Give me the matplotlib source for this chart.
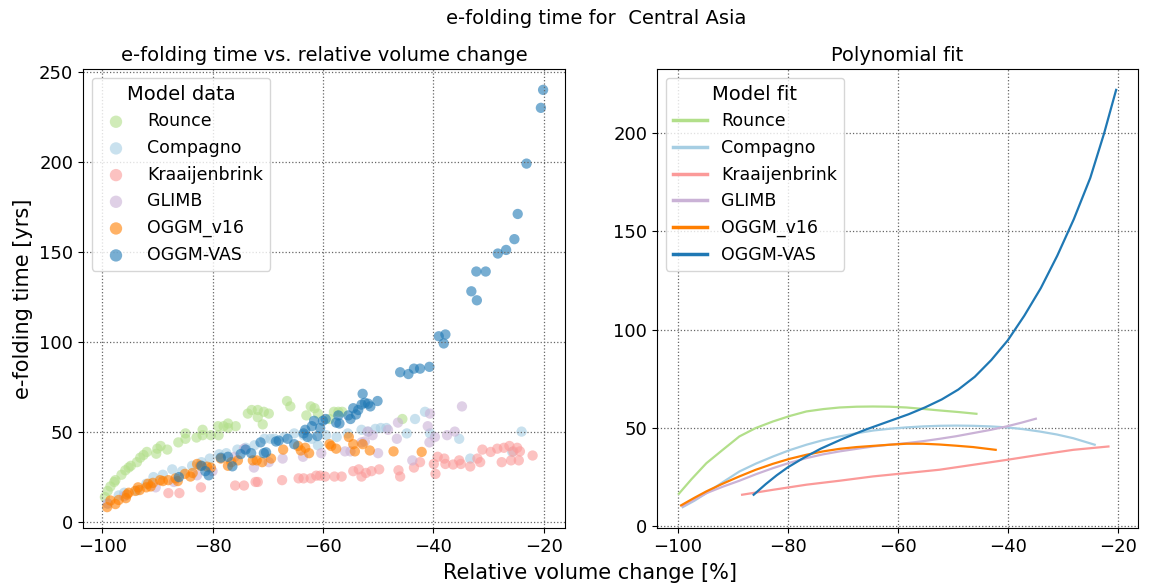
import numpy as np
import matplotlib
matplotlib.use('agg')
import matplotlib.pyplot as plt

models = ['Rounce', 'Compagno', 'Kraaijenbrink', 'GLIMB', 'OGGM_v16', 'OGGM-VAS']
colors = ['#b2df8a', '#a6cee3', '#fb9a99', '#cab2d6', '#ff7f00', '#1f78b4']

# scatter data: (relative volume change [%], e-folding time [yrs])
rounce_pts = [(-99.5, 13.6), (-99.0, 17), (-98.5, 19.5), (-97.8, 22), (-97.6, 23), (-96.5, 26),
              (-95.8, 28.5), (-95.2, 30), (-94.8, 31), (-93.7, 33), (-93.1, 35.5), (-92.5, 37),
              (-91.9, 38.7), (-90.2, 37.7), (-90.0, 40.5), (-89.4, 42), (-88.2, 40), (-86.2, 44),
              (-84.9, 46), (-84.9, 49), (-82.9, 46.7), (-81.8, 51), (-81.8, 48), (-80.3, 48),
              (-78.9, 48), (-79.0, 53), (-78.0, 53), (-77.2, 54.5), (-77.2, 52), (-75.8, 53),
              (-73.6, 60), (-72.9, 62), (-71.8, 62), (-70.7, 61), (-71.8, 58), (-70.9, 54),
              (-69.8, 60), (-66.5, 67), (-65.9, 64), (-63.0, 59), (-62.2, 64), (-61.5, 63),
              (-60.9, 60), (-58.8, 57), (-58.0, 61), (-57.2, 61), (-56.5, 61), (-45.6, 57)]
compagno_pts = [(-99.0, 10), (-97.0, 14.5), (-96.0, 16), (-93.7, 17.3), (-92.0, 21), (-90.7, 24.7),
                (-89.0, 26), (-87.3, 29), (-85.5, 28), (-83.7, 31), (-82.0, 33), (-80.5, 35),
                (-78.8, 37.4), (-77.5, 38), (-75.5, 40), (-74.0, 41), (-72.4, 42.4), (-70.6, 46),
                (-69.5, 46), (-68.8, 46), (-67.0, 47), (-65.2, 49), (-63.5, 48), (-62.0, 46),
                (-60.9, 42.4), (-59.4, 48), (-57.5, 47), (-55.5, 49), (-53.0, 51), (-51.8, 50),
                (-50.5, 51.5), (-49.5, 52), (-48.5, 52), (-44.8, 49), (-43.3, 57), (-41.5, 61),
                (-40.6, 49), (-35.3, 46), (-33.3, 35), (-25.7, 38.7), (-24.0, 50)]
kraai_pts = [(-88.0, 15.8), (-86.0, 15.8), (-82.1, 19), (-75.9, 20), (-74.3, 20), (-72.2, 22),
             (-71.8, 22), (-67.4, 23), (-64.4, 24), (-63.5, 24), (-62.2, 24), (-61.2, 25.5),
             (-60.5, 25.5), (-59.6, 25), (-57.9, 25), (-56.6, 25), (-54.5, 28), (-53.5, 29),
             (-53.0, 25), (-52.2, 27), (-51.2, 28), (-49.8, 29), (-46.3, 28.5), (-46.0, 25),
             (-43.5, 30), (-42.4, 33), (-39.9, 32), (-39.6, 26.5), (-39.2, 36), (-38.0, 35),
             (-37.8, 32), (-36.4, 31.7), (-35.3, 34), (-35.0, 32), (-33.3, 30.6), (-32.0, 35),
             (-31.5, 33), (-31.1, 40), (-29.6, 38.7), (-28.4, 40.5), (-27.6, 33), (-27.2, 41),
             (-26.2, 42), (-25.5, 39), (-25.9, 34), (-24.8, 41), (-24.5, 34), (-24.3, 39),
             (-22.0, 36.7)]
glimb_pts = [(-99.0, 10), (-96.0, 14), (-90.3, 19), (-87.0, 22), (-82.8, 25.7), (-80.0, 28),
             (-76.0, 36), (-74.3, 40.5), (-72.5, 30), (-69.8, 33), (-67.3, 35), (-63.6, 36),
             (-60.3, 38), (-56.0, 39), (-55.0, 39), (-53.0, 44), (-52.4, 44.5), (-51.9, 50),
             (-51.0, 48), (-50.0, 38), (-48.2, 51), (-46.6, 46), (-46.4, 55), (-43.8, 34),
             (-41.0, 53), (-40.6, 60), (-40.7, 44), (-39.7, 47), (-37.5, 48), (-36.1, 50),
             (-34.8, 64)]
oggm16_pts = [(-99.1, 8), (-98.5, 11.7), (-97.6, 9.7), (-97.0, 12), (-95.7, 13), (-95.5, 15),
              (-95.2, 16), (-94.0, 17), (-93.5, 19), (-93.2, 17.5), (-92.0, 19), (-91.7, 21),
              (-91.2, 19.5), (-90.8, 21.5), (-89.5, 23), (-89.0, 22.5), (-88.0, 23), (-86.7, 24),
              (-86.3, 22.5), (-85.0, 26.5), (-84.0, 25), (-83.6, 27), (-82.8, 32), (-82.2, 31),
              (-81.0, 30.5), (-80.3, 30), (-78.5, 35), (-77.2, 31), (-76.6, 33), (-75.4, 34),
              (-72.7, 34), (-72.0, 34), (-71.0, 33), (-69.4, 35), (-67.2, 40), (-64.5, 42),
              (-64.0, 39.5), (-63.2, 41), (-62.5, 38), (-58.8, 43), (-58.5, 42), (-57.6, 40.5),
              (-55.3, 47), (-54.5, 43), (-54.2, 39), (-52.8, 43), (-51.5, 39.5), (-47.2, 39),
              (-42.1, 38.7)]
vas_pts = [(-86.1, 24.7), (-82.0, 31), (-81.3, 28), (-80.7, 25.7), (-78.5, 35.5), (-77.2, 36),
           (-76.4, 30.7), (-74.9, 37.5), (-74.0, 40), (-73.0, 38), (-71.3, 44), (-70.7, 38),
           (-70.3, 38.5), (-68.5, 44.5), (-68.0, 45), (-66.4, 46), (-65.2, 43), (-63.5, 49),
           (-63.2, 51), (-62.8, 47), (-62.0, 53), (-61.6, 56), (-61.0, 47.5), (-60.5, 52),
           (-60.0, 56), (-59.5, 57), (-57.6, 55), (-57.2, 59), (-57.0, 54.5), (-55.4, 59),
           (-55.0, 57), (-54.0, 59.5), (-53.6, 62), (-54.5, 63), (-52.8, 71), (-53.0, 65),
           (-52.4, 66), (-51.8, 65.5), (-51.4, 64), (-50.1, 67), (-46.0, 83), (-44.5, 82),
           (-43.5, 85), (-42.4, 85), (-40.7, 86), (-39.0, 103), (-37.8, 104), (-38.1, 99),
           (-33.1, 128), (-32.1, 123), (-32.2, 139), (-30.5, 139), (-28.3, 149), (-26.8, 151),
           (-25.3, 157), (-24.7, 171), (-23.1, 199), (-20.5, 230), (-20.1, 240)]
scatter_data = [rounce_pts, compagno_pts, kraai_pts, glimb_pts, oggm16_pts, vas_pts]

# polynomial fit curves
rounce_fit = [(-99.8, 16.6), (-97.5, 24.0), (-94.8, 32.1), (-92.0, 38.5), (-88.8, 45.7), (-85.8, 50.0),
              (-82.7, 53.3), (-79.5, 56.2), (-76.6, 58.4), (-73.5, 59.6), (-70.6, 60.4), (-67.5, 60.8),
              (-64.5, 60.9), (-61.5, 60.8), (-58.4, 60.4), (-55.5, 59.7), (-52.4, 58.9), (-49.0, 58.1),
              (-45.7, 57.2)]
compagno_fit = [(-99.1, 9.8), (-97.0, 13.0), (-94.8, 16.9), (-91.8, 22.5), (-88.8, 27.9), (-85.8, 31.9),
                (-82.7, 35.5), (-79.7, 38.7), (-76.6, 41.5), (-73.6, 43.8), (-70.6, 45.7), (-67.5, 47.3),
                (-64.5, 48.7), (-61.5, 49.6), (-58.4, 50.3), (-55.4, 50.8), (-52.4, 51.1), (-49.4, 51.2),
                (-46.3, 51.1), (-43.2, 50.8), (-40.2, 50.3), (-37.2, 49.4), (-34.2, 48.2), (-31.1, 46.7),
                (-28.1, 44.8), (-24.2, 41.5)]
kraai_fit = [(-88.3, 16.1), (-82.7, 18.6), (-76.6, 21.2), (-70.6, 23.2), (-64.5, 25.4), (-58.4, 27.1),
             (-52.4, 28.8), (-46.3, 31.3), (-40.2, 33.8), (-34.2, 36.4), (-28.1, 38.9), (-21.7, 40.6)]
glimb_fit = [(-99.1, 10.2), (-97.0, 13.5), (-94.8, 16.9), (-91.8, 20.2), (-88.8, 23.2), (-85.8, 26.5),
             (-82.7, 29.6), (-79.7, 32.3), (-76.6, 34.7), (-73.6, 36.6), (-70.6, 38.1), (-67.5, 39.4),
             (-64.5, 40.6), (-61.5, 41.5), (-58.4, 42.3), (-55.4, 43.3), (-52.4, 44.5), (-49.4, 45.8),
             (-46.3, 47.4), (-43.2, 49.0), (-40.2, 50.8), (-37.5, 52.7), (-34.9, 54.7)]
oggm16_fit = [(-99.4, 10.7), (-97.0, 14.5), (-94.8, 17.8), (-92.0, 21.5), (-88.8, 25.4), (-85.8, 28.8),
              (-82.7, 31.8), (-79.7, 34.3), (-76.6, 36.4), (-73.6, 38.1), (-70.6, 39.4), (-67.5, 40.3),
              (-64.5, 40.9), (-61.5, 41.5), (-58.4, 42.0), (-55.4, 42.0), (-52.4, 41.6), (-49.4, 41.0),
              (-46.3, 40.3), (-42.2, 38.9)]
vas_fit = [(-86.2, 16.1), (-84.0, 21.5), (-82.0, 26.0), (-80.0, 30.0), (-77.0, 35.0), (-74.0, 39.5),
           (-70.0, 44.5), (-66.0, 49.0), (-62.0, 53.0), (-58.0, 57.0), (-55.0, 60.5), (-52.0, 64.5),
           (-49.0, 69.5), (-46.0, 76.0), (-43.0, 84.5), (-40.0, 94.5), (-37.0, 107.0), (-34.0, 121.0),
           (-31.0, 137.5), (-28.0, 156.0), (-25.0, 177.0), (-22.5, 199.5), (-20.3, 221.7)]
fit_data = [rounce_fit, compagno_fit, kraai_fit, glimb_fit, oggm16_fit, vas_fit]

fig = plt.figure(figsize=(11.49, 5.88), dpi=100)
ax1 = fig.add_axes([83 / 1149, 60 / 588, 482 / 1149, 459 / 588])
ax2 = fig.add_axes([657 / 1149, 60 / 588, 481 / 1149, 459 / 588])

for name, col, pts in zip(models, colors, scatter_data):
    pts = np.array(pts)
    ax1.scatter(pts[:, 0], pts[:, 1], s=55, color=col, alpha=0.6, edgecolors='none', label=name)

for name, col, pts in zip(models, colors, fit_data):
    pts = np.array(pts)
    ax2.plot(pts[:, 0], pts[:, 1], color=col, lw=1.6, label=name)

for ax in (ax1, ax2):
    ax.grid(True, ls=':', color='0.4', lw=0.9)
    ax.tick_params(labelsize=13)
    ax.set_xticks([-100, -80, -60, -40, -20])

ax1.set_title('e-folding time vs. relative volume change', fontsize=14)
ax2.set_title('Polynomial fit', fontsize=14)
ax1.set_ylabel('e-folding time [yrs]', fontsize=15)

leg1 = ax1.legend(title='Model data', fontsize=12.5, title_fontsize=14, loc='upper left',
                  markerscale=1.2)
leg2 = ax2.legend(title='Model fit', fontsize=12.5, title_fontsize=14, loc='upper left')
for ln in leg2.get_lines():
    ln.set_linewidth(2.5)

fig.text(596 / 1149, 1 - 18 / 588, 'e-folding time for  Central Asia', ha='center', va='center', fontsize=14)
fig.text(590 / 1149, 1 - 573 / 588, 'Relative volume change [%]', ha='center', va='center', fontsize=15)

fig.savefig('out.png', dpi=100)
